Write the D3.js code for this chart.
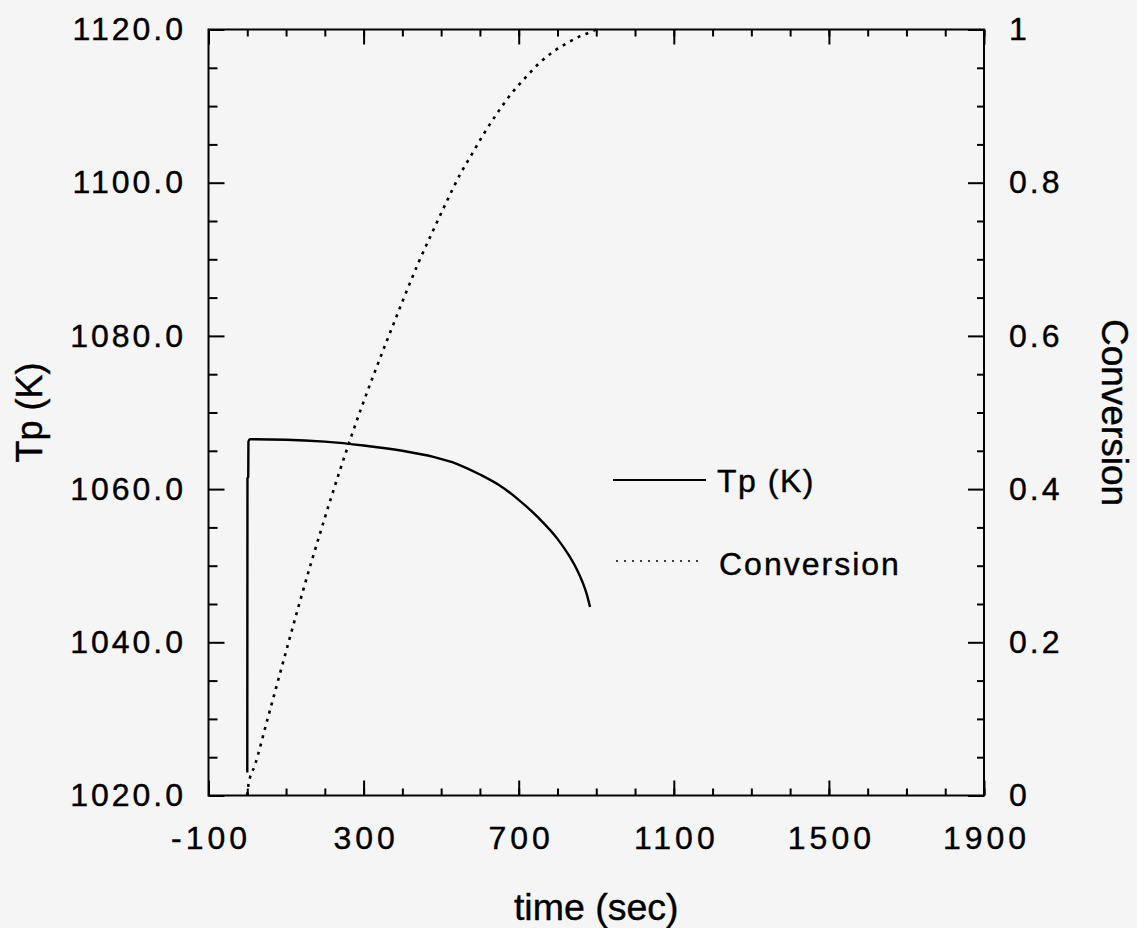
<!DOCTYPE html>
<html>
<head>
<meta charset="utf-8">
<script src="https://cdn.jsdelivr.net/npm/d3@7"></script>
<style>
  html, body { margin: 0; padding: 0; background: #f5f5f5; }
  svg { display: block; }
  text { font-family: "Liberation Sans", Arial, Helvetica, sans-serif; fill: #000; }
</style>
</head>
<body>
<svg id="chart" width="1137" height="928"></svg>
<script>
// ---- data ----
const tpTime = [0, 0.5, 2.5, 3, 7, 100, 200, 300, 400, 480, 540, 600, 650, 700, 750, 800, 830, 850, 865, 876, 884];
const tpValue = [1023, 1061.4, 1061.6, 1066.2, 1066.5, 1066.45, 1066.2, 1065.7, 1065.0, 1064.2, 1063.3, 1061.9, 1060.5, 1058.6, 1056.3, 1053.5, 1051.3, 1049.5, 1047.8, 1046.2, 1044.6];

const convTime = [0, 3, 20, 54, 162, 265, 390, 409, 441, 476, 512, 549, 579, 609, 641, 679, 719, 755, 789, 824, 862, 882, 900];
const convValue = [0, 0.014, 0.04, 0.103, 0.299, 0.464, 0.632, 0.656, 0.695, 0.734, 0.773, 0.811, 0.837, 0.863, 0.888, 0.915, 0.938, 0.957, 0.971, 0.982, 0.992, 0.996, 1.0];

const xMajorTicks = [-100, 300, 700, 1100, 1500, 1900];
const xTickLabels = ["-100", "300", "700", "1100", "1500", "1900"];
const xMinorTicks = [-100, 0, 100, 200, 300, 400, 500, 600, 700, 800, 900, 1000, 1100, 1200, 1300, 1400, 1500, 1600, 1700, 1800, 1900];
const yLeftMajorTicks = [1020, 1040, 1060, 1080, 1100, 1120];
const yLeftLabels = ["1020.0", "1040.0", "1060.0", "1080.0", "1100.0", "1120.0"];
const yLeftMinorTicks = [1025, 1030, 1035, 1045, 1050, 1055, 1065, 1070, 1075, 1085, 1090, 1095, 1105, 1110, 1115];
const yRightMajorTicks = [0, 0.2, 0.4, 0.6, 0.8, 1];
const yRightLabels = ["0", "0.2", "0.4", "0.6", "0.8", "1"];
const yRightMinorTicks = [0.05, 0.1, 0.15, 0.25, 0.3, 0.35, 0.45, 0.5, 0.55, 0.65, 0.7, 0.75, 0.85, 0.9, 0.95];

const legendNames = ["Tp (K)", "Conversion"];

// ---- layout ----
const L = 208.5, R = 984, T = 29.5, B = 795.5;
const svg = d3.select("#chart");
svg.append("rect").attr("width", 1137).attr("height", 928).attr("fill", "#f5f5f5");

const x = d3.scaleLinear().domain([-100, 1900]).range([L, R]);
const yL = d3.scaleLinear().domain([1020, 1120]).range([B, T]);
const yR = d3.scaleLinear().domain([0, 1]).range([B, T]);

function styleAxis(g) {
  g.select(".domain").remove();
  g.selectAll("line").attr("stroke", "#000").attr("stroke-width", 2);
}
function styleText(sel, ls) {
  sel.attr("font-size", 32).attr("letter-spacing", ls).attr("fill", "#000")
    .attr("stroke", "#000").attr("stroke-width", 0.4);
}

// bottom axis
svg.append("g").attr("transform", `translate(0,${B})`)
  .call(d3.axisBottom(x).tickValues(xMinorTicks).tickSize(-7).tickFormat(""))
  .call(styleAxis);
const gx = svg.append("g").attr("transform", `translate(0,${B})`)
  .call(d3.axisBottom(x).tickValues(xMajorTicks).tickSize(-15).tickFormat((d, i) => xTickLabels[i]))
  .call(styleAxis);
gx.selectAll("text").attr("y", 53.5).attr("dy", 0).attr("dx", 2).call(styleText, "4px");

// top axis
svg.append("g").attr("transform", `translate(0,${T})`)
  .call(d3.axisTop(x).tickValues(xMinorTicks).tickSize(-7).tickFormat(""))
  .call(styleAxis);
svg.append("g").attr("transform", `translate(0,${T})`)
  .call(d3.axisTop(x).tickValues(xMajorTicks).tickSize(-15).tickFormat(""))
  .call(styleAxis);

// left axis
svg.append("g").attr("transform", `translate(${L},0)`)
  .call(d3.axisLeft(yL).tickValues(yLeftMinorTicks).tickSize(-9).tickFormat(""))
  .call(styleAxis);
const gyl = svg.append("g").attr("transform", `translate(${L},0)`)
  .call(d3.axisLeft(yL).tickValues(yLeftMajorTicks).tickSize(-16).tickPadding(22.5)
    .tickFormat((d, i) => yLeftLabels[i]))
  .call(styleAxis);
gyl.selectAll("text").attr("dy", "0.32em").call(styleText, "3px");

// right axis
svg.append("g").attr("transform", `translate(${R},0)`)
  .call(d3.axisRight(yR).tickValues(yRightMinorTicks).tickSize(-7).tickFormat(""))
  .call(styleAxis);
const gyr = svg.append("g").attr("transform", `translate(${R},0)`)
  .call(d3.axisRight(yR).tickValues(yRightMajorTicks).tickSize(-16).tickPadding(25)
    .tickFormat((d, i) => yRightLabels[i]))
  .call(styleAxis);
gyr.selectAll("text").attr("dy", "0.32em").call(styleText, "3px");

// frame
svg.append("rect").attr("x", L).attr("y", T).attr("width", R - L).attr("height", B - T)
  .attr("fill", "none").attr("stroke", "#000").attr("stroke-width", 2);

// series
const tpData = tpTime.map((t, i) => ({ t, v: tpValue[i] }));
const convData = convTime.map((t, i) => ({ t, v: convValue[i] }));

svg.append("path").datum(tpData)
  .attr("fill", "none").attr("stroke", "#000").attr("stroke-width", 2.4)
  .attr("d", d3.line().x(d => x(d.t)).y(d => yL(d.v)).curve(d3.curveMonotoneX));

svg.append("path").datum(convData)
  .attr("fill", "none").attr("stroke", "#000").attr("stroke-width", 2.6)
  .attr("stroke-dasharray", "3,5.5")
  .attr("d", d3.line().x(d => x(d.t)).y(d => yR(d.v)).curve(d3.curveMonotoneX));

// legend
const lg = svg.append("g");
lg.append("line").attr("x1", 613).attr("x2", 706).attr("y1", 480).attr("y2", 480)
  .attr("stroke", "#000").attr("stroke-width", 2);
lg.append("text").attr("x", 717).attr("y", 492).text(legendNames[0]).call(styleText, "1.5px");
lg.append("line").attr("x1", 616).attr("x2", 700).attr("y1", 561).attr("y2", 561)
  .attr("stroke", "#000").attr("stroke-width", 1.6).attr("stroke-dasharray", "2,6");
lg.append("text").attr("x", 719).attr("y", 575).text(legendNames[1]).call(styleText, "2px");

// axis titles
svg.append("text").attr("x", (L + R) / 2).attr("y", 920).attr("text-anchor", "middle")
  .attr("font-size", 37.5).attr("stroke", "#000").attr("stroke-width", 0.4).text("time (sec)");
svg.append("text").attr("transform", `translate(42,${(T + B) / 2}) rotate(-90)`).attr("text-anchor", "middle")
  .attr("font-size", 36).attr("stroke", "#000").attr("stroke-width", 0.4).text("Tp (K)");
svg.append("text").attr("transform", `translate(1102,${(T + B) / 2}) rotate(90)`).attr("text-anchor", "middle")
  .attr("font-size", 37).attr("stroke", "#000").attr("stroke-width", 0.4).text("Conversion");
</script>
</body>
</html>
